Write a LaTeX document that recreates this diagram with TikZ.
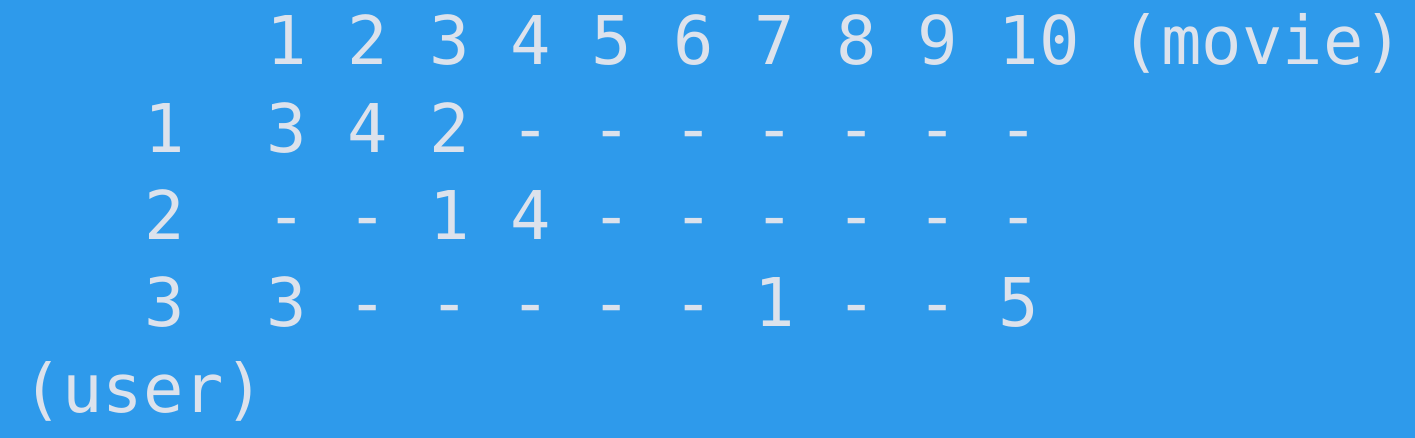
\documentclass[tikz,border=0pt]{standalone}
\usepackage{fontspec}
\setmonofont{DejaVu Sans Mono}
\definecolor{bg}{RGB}{46,154,235}
\definecolor{fg}{RGB}{220,226,236}
\begin{document}
\begin{tikzpicture}[x=1pt,y=1pt,
  tok/.style={anchor=base west, inner sep=0pt, outer sep=0pt, text=fg,
    font=\ttfamily\fontsize{33.6}{40}\selectfont}]
\fill[bg] (0,0) rectangle (707.5,-219);
\useasboundingbox (0,0) rectangle (707.5,-219);
\def\pitch{20.35}
\def\xo{11}
% header
\foreach \c/\t [count=\i] in {6/1,8/2,10/3,12/4,14/5,16/6,18/7,20/8,22/9,24/10,27/{(movie)}}
  \node[tok] (h\i) at ({\xo+\c*\pitch},-32.5) {\t};
% row 1
\foreach \c/\t [count=\i] in {3/1,6/3,8/4,10/2,12/-,14/-,16/-,18/-,20/-,22/-,24/-}
  \node[tok] (a\i) at ({\xo+\c*\pitch},-76.5) {\t};
% row 2
\foreach \c/\t [count=\i] in {3/2,6/-,8/-,10/1,12/4,14/-,16/-,18/-,20/-,22/-,24/-}
  \node[tok] (b\i) at ({\xo+\c*\pitch},-120) {\t};
% row 3
\foreach \c/\t [count=\i] in {3/3,6/3,8/-,10/-,12/-,14/-,16/-,18/1,20/-,22/-,24/5}
  \node[tok] (c\i) at ({\xo+\c*\pitch},-163.5) {\t};
% user
\node[tok] (u) at ({\xo},-206.5) {(user)};
\end{tikzpicture}
\end{document}
